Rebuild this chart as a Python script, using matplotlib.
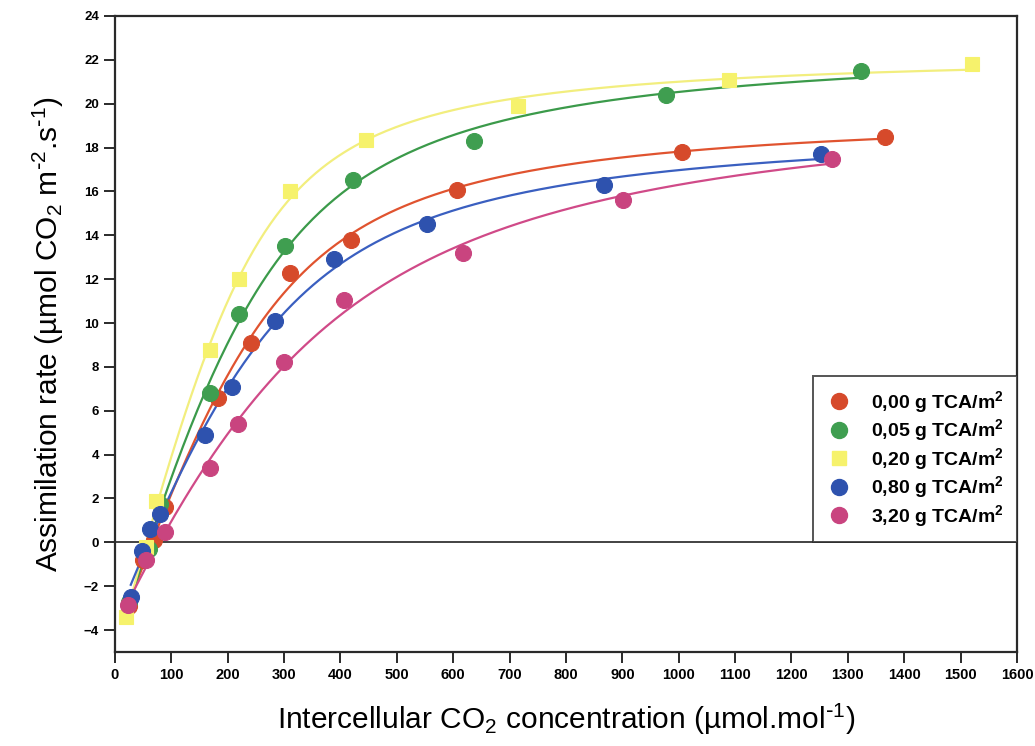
import matplotlib
matplotlib.use('Agg')
import matplotlib.pyplot as plt
import numpy as np
from matplotlib.lines import Line2D

# ---- data (Ci in umol/mol, A in umol CO2 m-2 s-1) ----
labels = ['0,00 g TCA/m$^2$', '0,05 g TCA/m$^2$', '0,20 g TCA/m$^2$',
          '0,80 g TCA/m$^2$', '3,20 g TCA/m$^2$']

ci_000 = [25, 50, 70, 88, 182, 241, 310, 418, 606, 1005, 1366]
a_000 = [-2.9, -0.8, 0.1, 1.6, 6.6, 9.1, 12.3, 13.8, 16.05, 17.8, 18.5]

ci_005 = [25, 60, 80, 168, 220, 301, 422, 636, 978, 1324]
a_005 = [-2.7, -0.3, 1.75, 6.8, 10.4, 13.5, 16.5, 18.3, 20.4, 21.5]

ci_020 = [20, 55, 72, 168, 220, 310, 446, 714, 1090, 1520]
a_020 = [-3.4, -0.2, 1.9, 8.75, 12.0, 16.0, 18.35, 19.9, 21.1, 21.8]

ci_080 = [28, 48, 62, 80, 159, 207, 283, 388, 553, 868, 1253]
a_080 = [-2.5, -0.4, 0.6, 1.3, 4.9, 7.1, 10.1, 12.9, 14.5, 16.3, 17.7]

ci_320 = [23, 55, 89, 168, 218, 299, 407, 617, 902, 1272]
a_320 = [-2.85, -0.8, 0.45, 3.4, 5.4, 8.2, 11.05, 13.2, 15.6, 17.5]

series = [(ci_000, a_000), (ci_005, a_005), (ci_020, a_020),
          (ci_080, a_080), (ci_320, a_320)]
mcols = ['#d64a2b', '#3f9e50', '#f6f26c', '#2e52ae', '#c9447f']
lcols = ['#e0532f', '#3b9a4a', '#f2ee7e', '#3a5fc0', '#d04a88']
markers = ['o', 'o', 's', 'o', 'o']

plt.rcParams.update({'font.family': ['Liberation Sans', 'DejaVu Sans'],
                     'mathtext.default': 'regular',
                     'figure.facecolor': 'white'})


def nrh(p, x):
    # non-rectangular hyperbola: alpha, Amax, theta, Rd
    al, am, th, rd = p
    th = np.clip(th, 0.01, 0.999)
    s = al * x + am
    return (s - np.sqrt(np.maximum(s ** 2 - 4 * th * al * x * am, 0))) / (2 * th) - rd


def fit_curve(x, y):
    x = np.asarray(x, float); y = np.asarray(y, float)
    p = np.array([0.08, y.max() + 3, 0.7, 4.0])
    lam = 1e-2
    for _ in range(400):
        r = y - nrh(p, x)
        J = np.empty((len(x), 4))
        for j in range(4):
            dp = np.zeros(4); dp[j] = 1e-6 * max(abs(p[j]), 1e-3)
            J[:, j] = (nrh(p + dp, x) - nrh(p, x)) / dp[j]
        A = J.T @ J
        step = np.linalg.solve(A + lam * np.diag(np.diag(A)), J.T @ r)
        pn = p + step
        pn[2] = np.clip(pn[2], 0.01, 0.999)
        if np.sum((y - nrh(pn, x)) ** 2) < np.sum(r ** 2):
            p, lam = pn, lam * 0.5
        else:
            lam *= 3
    xs = np.linspace(x.min(), x.max(), 300)
    return xs, nrh(p, xs)


fig = plt.figure(figsize=(10.35, 7.46), dpi=100)
ax = fig.add_axes([0.1111, 0.126, 0.8715, 0.8526])

for (x, y), mc, lc, mk in zip(series, mcols, lcols, markers):
    xs, ys = fit_curve(x, y)
    ax.plot(xs, ys, color=lc, lw=1.6, zorder=3)
    ax.plot(x, y, mk, color=mc, ms=11.5 if mk == 'o' else 10.5,
            mec=mc, mew=0.8, zorder=4)

ax.axhline(0, color='#222222', lw=1.2, zorder=2)

ax.set_xlim(0, 1600)
ax.set_ylim(-5, 24)
ax.set_xticks(np.arange(0, 1601, 100))
ax.set_yticks(np.arange(-4, 25, 2))
for s in ax.spines.values():
    s.set_linewidth(1.6)
    s.set_color('#2a2a2a')
ax.tick_params(direction='out', length=8, width=1.4, color='#2a2a2a')
for t in ax.get_xticklabels():
    t.set_family(['Liberation Sans Narrow', 'Liberation Sans'])
    t.set_fontsize(10.5)
    t.set_fontweight('bold')
for t in ax.get_yticklabels():
    t.set_fontsize(9.5)
    t.set_fontweight('bold')

ax.set_xlabel('Intercellular CO$_2$ concentration (\u00b5mol.mol$^{\\text{-}1}$)',
              fontsize=21.5, labelpad=14)
ax.set_ylabel('Assimilation rate (\u00b5mol CO$_2$ m$^{\\text{-}2}$.s$^{\\text{-}1}$)',
              fontsize=21.5, labelpad=13)

handles = [Line2D([], [], ls='none', marker=mk, color=mc, ms=11.5 if mk == 'o' else 10.5)
           for mc, mk in zip(mcols, markers)]
leg = ax.legend(handles, labels, loc='lower right', bbox_to_anchor=(1.0, 5 / 29),
                frameon=True, fancybox=False, edgecolor='#2a2a2a',
                prop={'weight': 'bold', 'size': 14}, handletextpad=1.05,
                labelspacing=0.13, borderpad=0.7, handlelength=1.2,
                borderaxespad=0)
leg.get_frame().set_linewidth(1.4)

fig.savefig('out.png', dpi=100)
